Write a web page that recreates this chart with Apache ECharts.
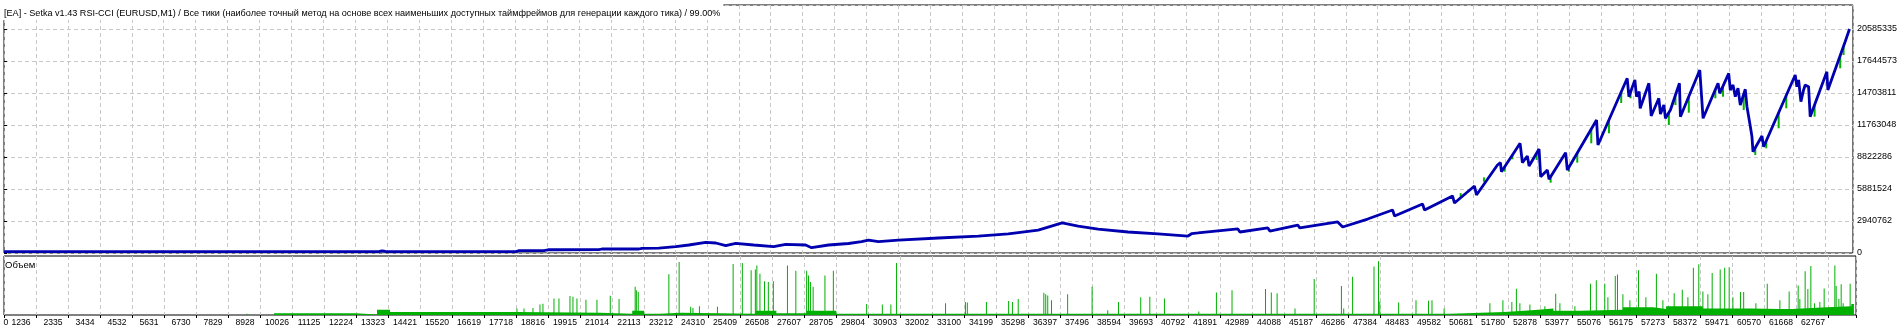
<!DOCTYPE html>
<html><head><meta charset="utf-8">
<script src="https://cdn.jsdelivr.net/npm/echarts@6/dist/echarts.min.js"></script>
<style>html,body{margin:0;padding:0;background:#fff}#c{width:1900px;height:332px}</style>
</head><body><div id="c"></div>
<script>
const titleText = "[EA] - Setka v1.43 RSI-CCI (EURUSD,M1) / Все тики (наиболее точный метод на основе всех наименьших доступных таймфреймов для генерации каждого тика) / 99.00%";
const volumeLabel = "Объем";
const xTickLabels = ["0","1236","2335","3434","4532","5631","6730","7829","8928","10026","11125","12224","13323","14421","15520","16619","17718","18816","19915","21014","22113","23212","24310","25409","26508","27607","28705","29804","30903","32002","33100","34199","35298","36397","37496","38594","39693","40792","41891","42989","44088","45187","46286","47384","48483","49582","50681","51780","52878","53977","55076","56175","57273","58372","59471","60570","61668","62767"];
const yTickLabels = ["0","2940762","5881524","8822286","11763048","14703811","17644573","20585335"];

// balance curve: [trade number, balance]
const balance = [
[0,130000],[12910,140000],[13013,190000],[13116,140000],[16343,130000],[17613,130000],[17716,211000],[18575,211000],[18712,300000],[20463,303000],[20566,368000],[21836,368000],[21939,432000],[22523,440000],[23107,579000],[23553,735000],[24137,983000],[24480,919000],[24823,671000],[25167,891000],[25785,735000],[26472,579000],[26884,800000],[27570,735000],[27776,487000],[28360,735000],[29047,873000],[29493,1040000],[29733,1190000],[30077,1040000],
[30763,1190000],[32137,1380000],[33510,1560000],[34540,1750000],[35570,2110000],[36394,2760000],[36943,2480000],[37630,2200000],[38660,1930000],[39690,1750000],[40720,1560000],[40857,1790000],[41063,1840000],[42437,2210000],[42506,1930000],[43467,2300000],[43536,2020000],[44497,2570000],[44566,2300000],[45870,2850000],[46042,2390000],[46900,3120000],[47757,3950000],[47826,3400000],[48788,4500000],[48857,3950000],[49819,5240000],[49887,4590000],[50574,6160000],[50643,5330000],[51364,8087000],
[51467,8298000],[51501,7471000],[52143,10081000],[52222,8298000],[52394,8914000],[52452,7995000],[52795,9557000],[52850,7012000],[53080,7628000],[53139,6773000],[53709,9217000],[53767,7628000],[54773,12223000],[54821,9925000],[55827,16055000],[55885,14364000],[56091,15898000],[56146,14364000],[56239,14823000],[56273,13298000],[56572,15595000],[56651,12590000],[56915,14217000],[56970,12774000],[57087,13601000],[57142,12379000],[57313,13142000],[57623,15595000],[57657,12526000],[58323,16817000],[58436,12379000],[58951,15595000],[59009,14676000],[59318,16514000],[59373,14980000],[59466,15439000],[59545,14364000],[59637,15136000],[59716,13601000],[59888,15044000],[59946,13445000],[60059,11671000],[60118,10688000],[60152,9309000],[60461,10752000],[60520,9769000],[61605,16358000],[61663,15283000],[61722,15898000],[61801,13904000],[61893,14980000],[61948,15439000],[62065,15283000],[62120,12526000],[62693,16661000],[62728,14980000],[63322,19418000],[63473,20585335]
];
// equity drawdowns under the balance line: [trade number, balance at that trade, lowest equity]
const equityDips = [
[50100,5500000,5150000],[50900,6950000,6550000],
[51614,7930000,7480000],[51879,8990000,8610000],[52713,9180000,8550000],[53194,7000000,6460000],[53826,7900000,7470000],[54110,9190000,8300000],[54591,11390000,10080000],[55199,12230000,11000000],[55621,14800000,13785000],[55941,14780000,14217000],[57259,12900000,11763000],[57485,14500000,13601000],[57945,14380000,12893000],[58859,15020000,14217000],[59123,15350000,14364000],[59834,14590000,13142000],[60232,9680000,9006000],[60610,10310000,9622000],[61036,12900000,11460000],[61297,14480000,13298000],[62272,13620000,12526000],[63151,18140000,16974000],[63268,19010000,18196000]
];
// volume: continuous base level and individual spikes
const volumeBase = [
[9270,3],[12086,1],[12807,9],[13253,5],[17613,4],[20463,2],[21570,7],[21980,2],[22520,4],[23250,2],[25800,7],[26520,3],[27560,7],[28580,2],[49650,5],[51520,8],[52450,11],[53200,7],[54110,9],[55590,13],[56620,10],[57070,15],[58330,11],[59990,10],[60960,10],[61400,13],[62580,15],[63430,18.6],[63520,0]
];
const volumeSpikes = [
[8343,2],[17613,11],[17854,11],[18163,12],[18403,18],[18506,19],[18884,28],[19055,28],[19433,32],[19536,31],[19673,28],[19982,26],[20360,26],[20817,32.6],[21119,27],[21672,48],[21713,42],[21778,39],[22829,69],[23182,90],[23577,14],[23656,12],[23879,15],[24497,14],[25036,86.5],[25352,88],[25654,76],[25799,77],[25850,84],[25956,70],[26114,57],[26245,56],[26417,57],[26901,84],[27189,75],[27560,75],[27625,67],[27690,56],[27783,48],[28188,67],[28477,75],[29620,18.5],[30159,18],[30451,18],[30647,88],[32329,20],[33012,22],[33077,21],[33733,22],[34495,23.6],[34626,22],[34825,27],[35704,37.6],[35769,35],[35838,33],[35968,25],[36521,35],[37362,48],[37898,8],[38269,22],[39031,30],[39343,31],[39845,28],[41026,6],[41630,38],[42166,42],[43316,44],[43515,38],[43714,37],[44329,11],[44988,61],[45922,49],[46001,11],[46306,65],[47041,82],[47196,91],[47240,23],[47886,21],[48483,25],[48912,24],[49032,25],[49448,11],
[51020,20],[51467,25],[51774,22],[51930,44.6],[52050,20],[52394,18],[52909,15],[53280,36],[53424,20],[53939,15],[54474,53],[54674,59],[54965,53],[55072,30],[55326,66],[55401,68.6],[55587,35],[55827,25],[56122,76],[56376,30],[56737,70],[56960,25],[57348,37],[57626,43],[57819,30],[58007,80],[58193,86],[58334,40],[58505,35],[58653,71],[58928,77],[59082,80],[59237,81],[59364,30],[59624,39],[59734,39],[60153,20],[60544,53],[60977,25],[61296,40],[61605,50],[61663,27],[61845,74],[61938,44],[62041,83],[62168,20],[62350,22],[62498,45],[62865,84],[62910,49],[63003,27],[63082,52],[63150,20],[63390,53]
];

const FONT = "'Liberation Sans', Arial, sans-serif";
const X_STEP = (62767 - 1236) / 56;
const X_MAX = X_STEP * 57.875;
const Y_STEP = 20585335 / 7;
const Y_MAX = Y_STEP * 7.75;
const GRID_LINE = {show: true, lineStyle: {color: '#c8c8c8', type: [4, 3], width: 1}};

const chart = echarts.init(document.getElementById('c'), null, {renderer: 'canvas'});
chart.setOption({
  animation: false,
  backgroundColor: '#fff',
  title: [
    {text: titleText, left: 1, top: 2, padding: [5, 3, 1, 3], backgroundColor: '#fff',
     textStyle: {fontFamily: FONT, fontSize: 9.1, fontWeight: 'normal', color: '#000', lineHeight: 12}},
    {text: volumeLabel, left: 3, top: 257, padding: [2, 2, 2, 2],
     textStyle: {fontFamily: FONT, fontSize: 9.5, fontWeight: 'normal', color: '#000', lineHeight: 12}}
  ],
  grid: [
    {left: 4, right: 44, top: 5, height: 248, show: true, borderColor: '#000', borderWidth: 1, backgroundColor: 'transparent'},
    {left: 4, right: 44, top: 256, height: 59, show: true, borderColor: '#000', borderWidth: 1, backgroundColor: 'transparent'}
  ],
  xAxis: [
    {gridIndex: 0, type: 'value', min: 0, max: X_MAX, interval: X_STEP,
     axisLine: {show: false}, axisTick: {show: false}, axisLabel: {show: false}, splitLine: GRID_LINE},
    {gridIndex: 1, type: 'value', min: 0, max: X_MAX, interval: X_STEP,
     axisLine: {show: false}, axisTick: {show: true, length: 3, lineStyle: {color: '#000'}},
     splitLine: GRID_LINE,
     axisLabel: {show: true, margin: 3, showMaxLabel: true, showMinLabel: true,
       formatter: function (v) {
         const k = Math.round(v / X_STEP);
         if (Math.abs(v - k * X_STEP) > 1) return '';
         if (k === 0) return '{z|' + xTickLabels[0] + '}';
         return k < xTickLabels.length ? '{a|' + xTickLabels[k] + '}' : '';
       },
       rich: {
         a: {fontFamily: FONT, fontSize: 8.6, color: '#000', padding: [0, 30, 0, 0]},
         z: {fontFamily: FONT, fontSize: 8.6, color: '#000', padding: [0, 0, 0, 4]}
       }}}
  ],
  yAxis: [
    {gridIndex: 0, type: 'value', position: 'right', min: 0, max: Y_MAX, interval: Y_STEP,
     axisLine: {show: false}, axisTick: {show: true, length: 3, lineStyle: {color: '#000'}},
     splitLine: GRID_LINE,
     axisLabel: {margin: 4, fontFamily: FONT, fontSize: 9, color: '#000',
       formatter: function (v) {
         const k = Math.round(v / Y_STEP);
         if (Math.abs(v - k * Y_STEP) > 10) return '';
         return k < yTickLabels.length ? yTickLabels[k] : '';
       }}},
    {gridIndex: 1, type: 'value', min: 0, max: 100, show: false, splitLine: {show: false}}
  ],
  series: [
    {name: 'Equity', type: 'custom', xAxisIndex: 0, yAxisIndex: 0, data: equityDips, z: 2,
     encode: {x: 0, y: [1, 2]},
     renderItem: function (params, api) {
       const a = api.coord([api.value(0), api.value(1)]);
       const b = api.coord([api.value(0), api.value(2)]);
       return {type: 'line', shape: {x1: a[0], y1: a[1], x2: b[0], y2: b[1]},
               style: {stroke: '#00b400', lineWidth: 2}};
     }},
    {name: 'Balance', type: 'line', xAxisIndex: 0, yAxisIndex: 0, data: balance, showSymbol: false,
     lineStyle: {color: '#0000b0', width: 2.8}, z: 3},
    {name: 'VolumeBase', type: 'line', step: 'end', xAxisIndex: 1, yAxisIndex: 1, data: volumeBase, showSymbol: false,
     lineStyle: {width: 0}, areaStyle: {color: '#00b000', opacity: 1}, z: 2},
    {name: 'Volume', type: 'bar', xAxisIndex: 1, yAxisIndex: 1, data: volumeSpikes, barWidth: 1,
     itemStyle: {color: '#00b000'}, z: 3}
  ]
});
</script>
</body></html>
